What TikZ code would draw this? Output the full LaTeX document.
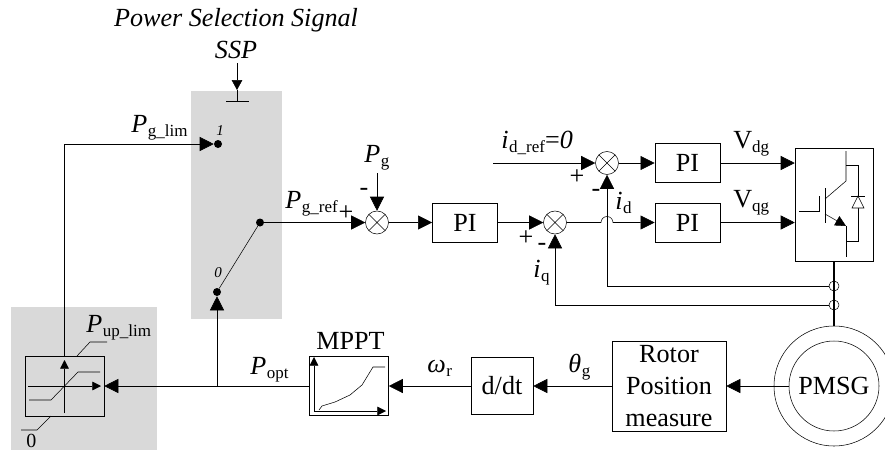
\documentclass[tikz,border=0pt]{standalone}
\usepackage{fontspec}
\setmainfont{Liberation Serif}
\usetikzlibrary{arrows.meta,calc}
\newcommand{\bigf}{\fontsize{19.6}{24}\selectfont}
\newcommand{\midf}{\fontsize{15}{18}\selectfont}
\newcommand{\subf}{\fontsize{12.75}{15}\selectfont}
\newcommand{\tinyf}{\fontsize{11.25}{13}\selectfont}
\newcommand{\subt}[1]{\raisebox{-3pt}{\subf #1}}
\newcommand{\lab}[2]{{\itshape #1}\kern0.5pt\subt{#2}}
\tikzset{
  x=.75pt,y=-.75pt,
  line width=.8pt,
  arr/.style={-{Triangle[length=10.5pt,width=10.5pt]}},
  sarr/.style={-{Triangle[length=6.5pt,width=6.5pt]}},
  blk/.style={draw,rectangle,inner sep=0pt,font=\bigf,align=center},
  sumn/.style={draw,circle,inner sep=0pt,minimum size=17.25pt,
    path picture={\draw (path picture bounding box.north west)--(path picture bounding box.south east)
      (path picture bounding box.north east)--(path picture bounding box.south west);}},
  dotn/.style={circle,fill=black,inner sep=0pt,minimum size=6pt},
  tapn/.style={draw,circle,inner sep=0pt,minimum size=7.5pt},
  lbl/.style={inner sep=0pt,anchor=base west,font=\bigf},
  mid/.style={inner sep=0pt,anchor=center,font=\bigf},
  shade/.style={fill=black!15,draw=none},
}
\begin{document}
\begin{tikzpicture}
\useasboundingbox (0,0) rectangle (885,450);
% shaded zones
\path[shade] (11,307) rectangle (157,450);
\path[shade] (191,91) rectangle (282,319);

% blocks
\node[blk,minimum width=59.25pt,minimum height=45pt] (lim) at (64.5,386) {};
\node[blk,minimum width=59.25pt,minimum height=44.25pt] (mppt) at (349,386) {};
\node[blk,minimum width=46.5pt,minimum height=43pt] (ddt) at (502,386) {d/dt};
\node[blk,minimum width=85.5pt,minimum height=67.5pt] (rotor) at (669,386) {Rotor\\Position\\measure};
\node[draw,circle,inner sep=0pt,minimum size=90pt] (gen) at (834,386) {};
\node[draw,circle,inner sep=0pt,minimum size=67.5pt,font=\bigf] (pmsg) at (834,386) {PMSG};
\node[blk,minimum width=49pt,minimum height=29.25pt] (pi0) at (465,222.5) {PI};
\node[blk,minimum width=49pt,minimum height=29.25pt] (pi1) at (687.5,163) {PI};
\node[blk,minimum width=49pt,minimum height=29.25pt] (pi2) at (687.5,222.5) {PI};
\node[blk,minimum width=58.5pt,minimum height=84.75pt] (conv) at (834,204.5) {};
\node[sumn] (s1) at (607,163) {};
\node[sumn] (s2) at (555,222.5) {};
\node[sumn] (s3) at (377,222.5) {};
\node[dotn] (d1) at (218,144) {};
\node[dotn] (d0) at (217,292) {};
\node[dotn] (da) at (260,222.5) {};
\node[tapn] (t1) at (834,286) {};
\node[tapn] (t2) at (834,305) {};

% free ends
\coordinate (branch) at (217,386);
\coordinate (sspA) at (237,63);
\coordinate (sspB) at (237,101);
\coordinate (sspL) at (226,101);
\coordinate (sspR) at (249,101);
\coordinate (pgA) at (377,173);
\coordinate (idr) at (493,163);
\coordinate (jumpL) at (601,222.5);

% connectors
\draw[arr] (lim.north) |- (d1.west);
\draw[arr] (mppt.west) -- (lim.east);
\draw[arr] (branch) -- (d0.south);
\draw[arr] (ddt.west) -- (mppt.east);
\draw[arr] (rotor.west) -- (ddt.east);
\draw[arr] (pmsg.west) -- (rotor.east);
\draw (d0) -- (da);
\draw[arr] (da) -- (s3.west);
\draw[arr] (s3.east) -- (pi0.west);
\draw[arr] (pi0.east) -- (s2.west);
\draw[arr] (pgA) -- (s3.north);
\draw[arr] (idr) -- (s1.west);
\draw[arr] (s1.east) -- (pi1.west);
\draw[arr] (s2.east) -- (jumpL) arc[start angle=180,end angle=0,radius=4.5pt] -- (pi2.west);
\draw[arr] (pi1.east) -- (pi1.east -| conv.west);
\draw[arr] (pi2.east) -- (pi2.east -| conv.west);
\draw[arr] (t1.west) -| (s1.south);
\draw[arr] (t2.west) -| (s2.south);
\draw[line width=1.2pt] (conv.south) -- (gen.north);
\draw[-{Triangle[length=7.5pt,width=8pt]}] (sspA) -- (237,90);
\draw (237,90) -- (sspB);
\draw (sspL) -- (sspR);

% limiter inner
\draw[sarr] (64.5,413) -- (64.5,360);
\draw[sarr] (28,386) -- (101,386);
\draw (29,400) -- (51,400) -- (78,372) -- (100,372);
\draw (77,356) -- (90,342) -- (107,342);
\draw (51,416) -- (37,430) -- (21,430);

% MPPT inner
\draw[sarr] (314,411) -- (314,357);
\draw[sarr] (314,411) -- (386,411);
\draw (319,410) -- (322,406) -- (335,402) -- (350,395) -- (362,385) -- (373,367) -- (385,367);

% IGBT
\draw (799,211) -- (819,211) -- (819,196);
\draw (825,188) -- (825,223);
\draw (846,151) -- (846,181) -- (825,199);
\draw[-{Triangle[length=8pt,width=8pt]}] (825,214) -- (846,226);
\draw (846,226) -- (846,257);
\draw (846,165) -- (858,165) -- (858,241) -- (846,241);
\draw[fill=white] (852,208) -- (864,208) -- (858,196) -- cycle;
\draw (851,196) -- (865,196);

% labels
\node[lbl,font=\bigf\itshape,anchor=base] (tSig) at (236,26) {Power Selection Signal};
\node[lbl,font=\bigf\itshape,anchor=base] (tSSP) at (236,58) {SSP};
\node[lbl] (tLim) at (131,132) {\lab{P}{g\_lim}};
\node[mid,font=\tinyf\itshape] (t1t) at (220,131) {1};
\node[mid,font=\tinyf\itshape] (t0t) at (218,273) {0};
\node[lbl] (tRef) at (285,208) {\lab{P}{g\_ref}};
\node[mid] (pa) at (346,213) {+};
\node[mid] (ma) at (364,192) {-};
\node[lbl] (tPg) at (364,162) {\lab{P}{g}};
\node[lbl] (tIdr) at (501,148) {\lab{i}{d\_ref}=\textit{0}};
\node[mid] (pb) at (577,177) {+};
\node[mid] (mb) at (596,193) {-};
\node[lbl] (tId) at (615,209) {\lab{i}{d}};
\node[lbl] (tVd) at (733,148) {V\subt{dg}};
\node[lbl] (tVq) at (733,207) {V\subt{qg}};
\node[mid] (pc) at (526,238) {+};
\node[mid] (mc) at (542,247) {-};
\node[lbl] (tIq) at (533,277) {\lab{i}{q}};
\node[lbl] (tUp) at (86,332) {\lab{P}{up\_lim}};
\node[lbl,font=\midf] (tZero) at (26,447) {0};
\node[lbl] (tOpt) at (250,374) {\lab{P}{opt}};
\node[lbl] (tMppt) at (316,349) {MPPT};
\node[lbl] (tW) at (427,372) {\lab{\textit{ω}}{r}};
\node[lbl] (tTh) at (568,372) {\lab{\textit{θ}}{g}};
\end{tikzpicture}
\end{document}
